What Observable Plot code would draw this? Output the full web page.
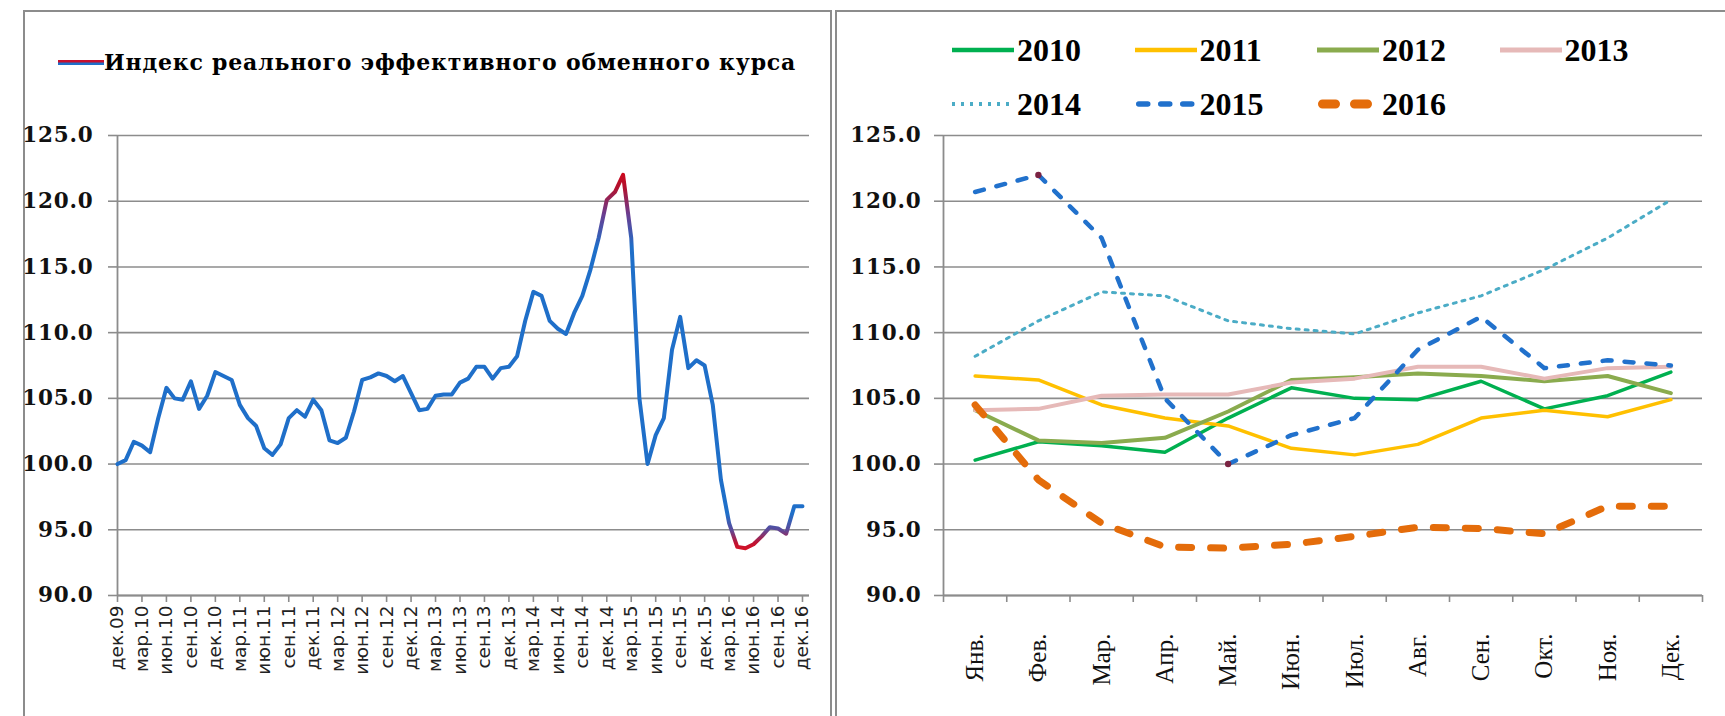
<!DOCTYPE html>
<html>
<head>
<meta charset="utf-8">
<script src="https://cdn.jsdelivr.net/npm/d3@7"></script>
<script src="https://cdn.jsdelivr.net/npm/@observablehq/plot@0.6"></script>
<style>
  html, body { margin: 0; padding: 0; background: #fff; }
  #page { position: relative; width: 1725px; height: 716px; overflow: hidden; background: #fff; }
  .frame { position: absolute; border: 2px solid #8c8c8c; box-sizing: border-box; }
  #leftFrame { left: 23px; top: 10px; width: 809px; height: 800px; }
  #rightFrame { left: 835px; top: 10px; width: 1000px; height: 800px; }
  #leftPlot { position: absolute; left: 0; top: 115px; }
  #rightPlot { position: absolute; left: 840px; top: 115px; }
  #leftLegend { position: absolute; left: 58px; top: 46px; height: 32px; display: flex; align-items: center; white-space: nowrap; }
  #leftLegend .sample { width: 46px; height: 5px; background: linear-gradient(to bottom, #c8102e 0%, #c8102e 40%, #1f6fc9 60%, #1f6fc9 100%); }
  #leftLegend .txt { font-family: "DejaVu Serif", serif; font-weight: bold; font-size: 22px; letter-spacing: 0.8px; color: #000; }
  #rightLegend { position: absolute; left: 952px; top: 31px; display: grid; grid-template-columns: repeat(4, 182.5px); grid-auto-rows: 54px; }
  #rightLegend .item { display: flex; align-items: center; height: 38px; }
  #rightLegend .item svg { flex: none; }
  #rightLegend .item span { font-family: "Liberation Serif", serif; font-weight: bold; font-size: 32px; margin-left: 3px; color: #000; }
  #leftPlot g[aria-label="y-axis tick label"] text,
  #rightPlot g[aria-label="y-axis tick label"] text { font-family: "DejaVu Serif", serif; font-weight: bold; font-size: 21.5px; letter-spacing: 0.8px; fill: #111; }
  #leftPlot g[aria-label="x-axis tick label"] text { font-family: "DejaVu Sans", sans-serif; font-size: 18.5px; fill: #222; }
  #rightPlot g[aria-label="x-axis tick label"] text { font-family: "Liberation Serif", serif; font-size: 25px; fill: #111; }
</style>
</head>
<body>
<div id="page">
  <div class="frame" id="leftFrame"></div>
  <div class="frame" id="rightFrame"></div>
  <div id="leftLegend"><div class="sample"></div><span class="txt">Индекс реального эффективного обменного курса</span></div>
  <div id="rightLegend"></div>
  <div id="leftPlot"></div>
  <div id="rightPlot"></div>
</div>
<script>
// ---------- data ----------
const yTicks = [90, 95, 100, 105, 110, 115, 120, 125];
const dec2009 = 100.0;
const years = [2010, 2011, 2012, 2013, 2014, 2015, 2016];
const y2010 = [100.3, 101.7, 101.4, 100.9, 103.5, 105.8, 105.0, 104.9, 106.3, 104.2, 105.2, 107.0];
const y2011 = [106.7, 106.4, 104.5, 103.5, 102.9, 101.2, 100.7, 101.5, 103.5, 104.1, 103.6, 104.9];
const y2012 = [104.1, 101.8, 101.6, 102.0, 104.0, 106.4, 106.6, 106.9, 106.7, 106.3, 106.7, 105.4];
const y2013 = [104.1, 104.2, 105.2, 105.3, 105.3, 106.2, 106.5, 107.4, 107.4, 106.5, 107.3, 107.4];
const y2014 = [108.2, 110.9, 113.1, 112.8, 110.9, 110.3, 109.9, 111.5, 112.8, 114.8, 117.2, 120.1];
const y2015 = [120.7, 122.0, 117.2, 105.0, 100.0, 102.2, 103.5, 108.7, 111.2, 107.3, 107.9, 107.5];
const y2016 = [104.5, 98.8, 95.5, 93.7, 93.6, 93.9, 94.5, 95.2, 95.1, 94.7, 96.8, 96.8];
const monthLabels = ["Янв.", "Фев.", "Мар.", "Апр.", "Май.", "Июн.", "Июл.", "Авг.", "Сен.", "Окт.", "Ноя.", "Дек."];
const quarterLabels = ["дек.09", "мар.10", "июн.10", "сен.10", "дек.10", "мар.11", "июн.11", "сен.11", "дек.11",
  "мар.12", "июн.12", "сен.12", "дек.12", "мар.13", "июн.13", "сен.13", "дек.13", "мар.14", "июн.14", "сен.14",
  "дек.14", "мар.15", "июн.15", "сен.15", "дек.15", "мар.16", "июн.16", "сен.16", "дек.16"];

// ---------- styles ----------
const gridColor = "#8c8c8c";
const yearStyles = {
  2010: {stroke: "#00b050", strokeWidth: 3.5},
  2011: {stroke: "#ffc000", strokeWidth: 3.5},
  2012: {stroke: "#8aab4e", strokeWidth: 4},
  2013: {stroke: "#e6b9b8", strokeWidth: 4},
  2014: {stroke: "#4bacc6", strokeWidth: 3, strokeDasharray: "3 6"},
  2015: {stroke: "#2171cc", strokeWidth: 4.5, strokeDasharray: "9 13", strokeLinecap: "round"},
  2016: {stroke: "#e46c0a", strokeWidth: 7, strokeDasharray: "13 19", strokeLinecap: "round"}
};
const gradientStops = [[123, "#e3000f"], [121, "#b0122f"], [119, "#6a3d90"], [116.5, "#1f6fc9"],
  [96.2, "#1f6fc9"], [95.0, "#5b4a9a"], [94.0, "#c01231"], [93.0, "#e8141c"]];

// ---------- derived tables ----------
const seriesByYear = [y2010, y2011, y2012, y2013, y2014, y2015, y2016];
const leftSeries = [dec2009, ...seriesByYear.flat()].map((v, i) => ({i, v}));
const rows = years.flatMap((yr, k) => seriesByYear[k].map((v, m) => ({year: yr, month: m + 1, value: v})));
const quarterTicks = quarterLabels.map((_, k) => 3 * k);

function reerGradient(index, scales, values, dimensions, context) {
  const ns = "http://www.w3.org/2000/svg";
  const doc = (context && context.document) || document;
  const defs = doc.createElementNS(ns, "defs");
  const lg = doc.createElementNS(ns, "linearGradient");
  lg.setAttribute("id", "reerGradient");
  lg.setAttribute("gradientUnits", "userSpaceOnUse");
  const yTop = scales.y(yTicks[yTicks.length - 1]), yBot = scales.y(yTicks[0]);
  lg.setAttribute("x1", 0); lg.setAttribute("x2", 0);
  lg.setAttribute("y1", yTop); lg.setAttribute("y2", yBot);
  for (const [v, c] of gradientStops) {
    const s = doc.createElementNS(ns, "stop");
    s.setAttribute("offset", (scales.y(v) - yTop) / (yBot - yTop));
    s.setAttribute("stop-color", c);
    lg.appendChild(s);
  }
  defs.appendChild(lg);
  return defs;
}

// ---------- left chart ----------
const leftPlot = Plot.plot({
  width: 830,
  height: 580,
  marginLeft: 117,
  marginRight: 21,
  marginTop: 20,
  marginBottom: 100,
  x: {type: "linear", domain: [0, 84.86]},
  y: {domain: [90, 125]},
  marks: [
    Plot.gridY({ticks: yTicks, stroke: gridColor, strokeOpacity: 1, strokeWidth: 1.6}),
    Plot.ruleX([0], {stroke: gridColor, strokeWidth: 1.8}),
    Plot.ruleY([90], {stroke: gridColor, strokeWidth: 1.8}),
    Plot.axisY({ticks: yTicks, tickFormat: d => d.toFixed(1), tickSize: 9, tickPadding: 15, stroke: gridColor, strokeWidth: 1.6, label: null}),
    Plot.axisX({ticks: quarterTicks, tickFormat: (d) => quarterLabels[d / 3], tickSize: 7, tickPadding: 3, tickRotate: -90, stroke: gridColor, strokeWidth: 1.6, label: null}),
    reerGradient,
    Plot.line(leftSeries, {x: "i", y: "v", stroke: "url(#reerGradient)", strokeWidth: 4, strokeLinejoin: "round", strokeLinecap: "round"})
  ]
});
document.getElementById("leftPlot").appendChild(leftPlot);

// ---------- right chart ----------
const bandEdges = d3.range(0, 13).map(k => k + 0.5);
const monthNums = monthLabels.map((_, k) => k + 1);
const i15max = d3.maxIndex(y2015), i15min = d3.minIndex(y2015);
const extremes2015 = rows.filter(r => r.year === 2015 && (r.month === i15max + 1 || r.month === i15min + 1));

const rightPlot = Plot.plot({
  width: 885,
  height: 580,
  marginLeft: 103,
  marginRight: 23,
  marginTop: 20,
  marginBottom: 100,
  x: {type: "linear", domain: [0.5, 12.5]},
  y: {domain: [90, 125]},
  marks: [
    Plot.gridY({ticks: yTicks, stroke: gridColor, strokeOpacity: 1, strokeWidth: 1.6}),
    Plot.ruleX([0.5], {stroke: gridColor, strokeWidth: 1.8}),
    Plot.ruleY([90], {stroke: gridColor, strokeWidth: 1.8}),
    Plot.axisY({ticks: yTicks, tickFormat: d => d.toFixed(1), tickSize: 9, tickPadding: 13, stroke: gridColor, strokeWidth: 1.6, label: null}),
    Plot.axisX({ticks: bandEdges, tickFormat: () => "", tickSize: 7, stroke: gridColor, strokeWidth: 1.6, label: null}),
    Plot.axisX({ticks: monthNums, tickFormat: d => monthLabels[d - 1], tickSize: 0, tickPadding: 38, tickRotate: -90, label: null}),
    ...years.map(yr => Plot.line(rows.filter(r => r.year === yr), {
      x: "month", y: "value", strokeLinejoin: "round", ...yearStyles[yr]
    })),
    Plot.dot(extremes2015, {x: "month", y: "value", r: 3.2, fill: "#7a2342"})
  ]
});
document.getElementById("rightPlot").appendChild(rightPlot);

// ---------- right legend ----------
const rl = document.getElementById("rightLegend");
for (const yr of years) {
  const st = yearStyles[yr];
  const item = document.createElement("div");
  item.className = "item";
  const sw = st.strokeWidth + (yr === 2016 ? 2 : 1);
  const dash = st.strokeDasharray ? `stroke-dasharray="${st.strokeDasharray}"` : "";
  const cap = st.strokeLinecap === "round" ? "round" : "butt";
  const x1 = cap === "round" ? sw / 2 + 1 : 0;
  item.innerHTML = `<svg width="62" height="14"><line x1="${x1}" y1="7" x2="${62 - x1}" y2="7" stroke="${st.stroke}" stroke-width="${sw}" stroke-linecap="${cap}" ${dash}/></svg><span>${yr}</span>`;
  rl.appendChild(item);
}
</script>
</body>
</html>
